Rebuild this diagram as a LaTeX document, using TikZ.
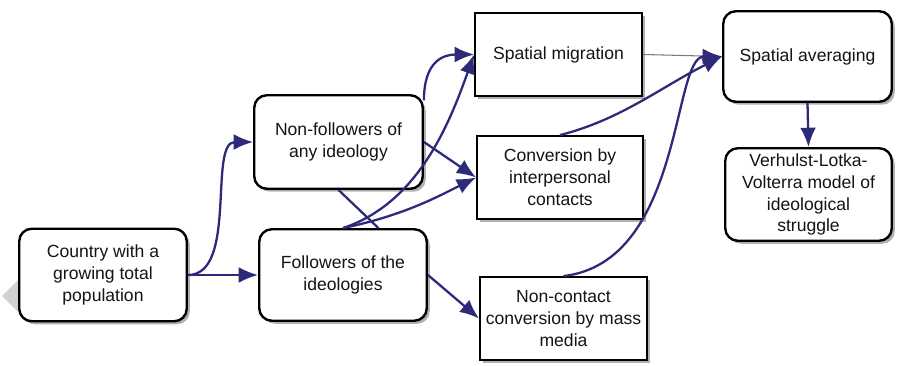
\documentclass[tikz,border=0pt]{standalone}
\usepackage{fontspec}
\setmainfont{Liberation Sans}
\usetikzlibrary{arrows.meta, shadows, shapes.geometric}
\definecolor{cInk}{HTML}{141414}
\definecolor{cFlow}{HTML}{2D2A7A}
\definecolor{cThin}{HTML}{7A7A7A}
\definecolor{cShade}{HTML}{7C7C7C}

\begin{document}
\begin{tikzpicture}[
  sbox/.style={draw=black, fill=white, line width=1.35pt,
    minimum width=3.33cm, minimum height=1.65cm, align=center,
    font=\fontsize{10}{12.5}\selectfont, text=cInk, inner sep=2pt,
    drop shadow={shadow xshift=0.06cm, shadow yshift=-0.06cm, fill=cShade, opacity=0.6}},
  rbox/.style={sbox, rounded corners=0.25cm, minimum height=1.85cm},
  flow/.style={draw=cFlow, line width=1.3pt, -{Latex[length=11pt,width=9pt]}},
  link/.style={draw=cFlow, line width=1.3pt}
]
  \useasboundingbox (0,0) rectangle (17.96,7.30);

  % faint mark at the left edge
  \node[diamond, fill=black!18, minimum size=0.8cm, inner sep=0pt] (mark) at (0.44,1.38) {};

  % population and groups
  \node[rbox, minimum width=3.35cm] (country) at (2.06,1.80) {Country with a\\growing total\\population};
  \node[rbox, minimum width=3.37cm, minimum height=1.87cm] (nonfol) at (6.77,4.46) {Non-followers of\\any ideology};
  \node[rbox, minimum width=3.35cm, minimum height=1.83cm] (fol) at (6.86,1.80) {Followers of the\\ideologies};

  % processes
  \node[sbox] (migr) at (11.17,6.21) {Spatial migration};
  \node[sbox, minimum width=3.31cm] (contact) at (11.20,3.75) {Conversion by\\interpersonal\\contacts};
  \node[sbox] (media) at (11.27,0.93) {Non-contact\\conversion by mass\\media};

  % outcome
  \node[rbox, minimum width=3.37cm, minimum height=1.81cm] (avg) at (16.15,6.17) {Spatial averaging};
  \node[rbox] (vlv) at (16.17,3.41) {Verhulst-Lotka-\\Volterra model of\\ideological\\struggle};

  % connectors
  \draw[cThin, line width=0.6pt] (migr.east) -- (avg.west);
  \draw[flow] (country.east) .. controls +(1.0,0) and +(-0.9,0) .. (nonfol.west);
  \draw[flow] (country.east) -- (fol.west);
  \draw[link] (nonfol.south) -- (fol.53);
  \draw[flow] (nonfol.26) .. controls +(0,0.8) and +(-0.6,0) .. (migr.west);
  \draw[flow] (nonfol.east) -- (contact.west);
  \draw[flow] (fol.north) .. controls +(1.5,0.5) and +(-0.5,-1.4) .. (migr.west);
  \draw[flow] (fol.north) .. controls +(1.2,0.25) and +(-0.8,-0.4) .. (contact.west);
  \draw[flow] (fol.east) -- (media.west);
  \draw[flow] (contact.north) .. controls +(1.2,0.3) and +(-1.2,-0.6) .. (avg.west);
  \draw[flow] (media.north) .. controls +(2.4,0.28) and +(-1.0,0) .. (avg.west);
  \draw[flow] (avg.south) -- (vlv.north);
\end{tikzpicture}
\end{document}
